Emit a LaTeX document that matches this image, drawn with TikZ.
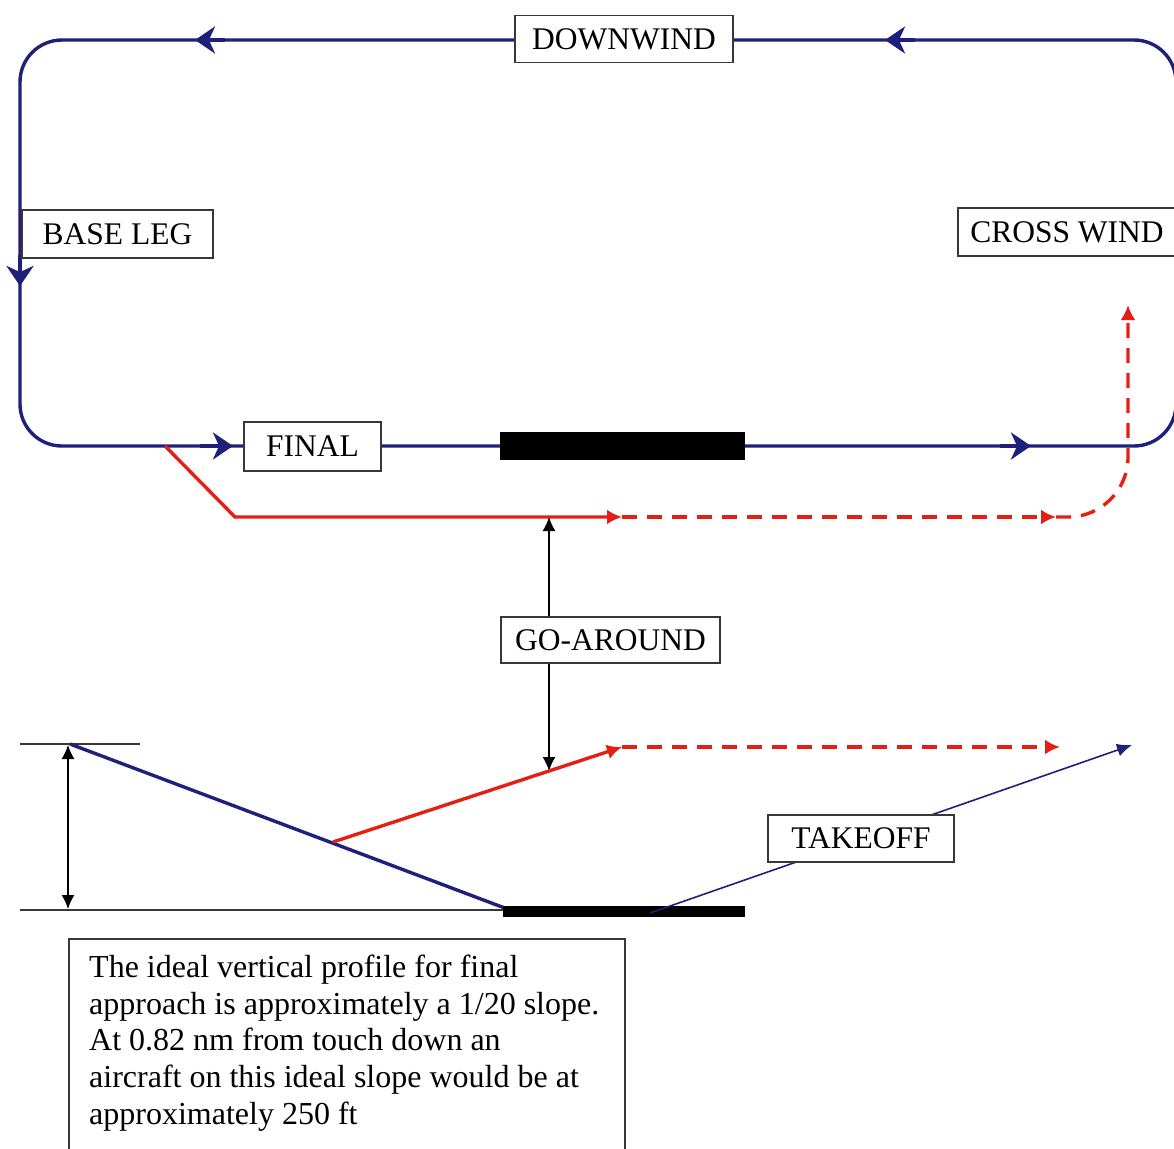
\documentclass[tikz,border=0pt]{standalone}
\usepackage{fontspec}
\setmainfont{Liberation Serif}
\usetikzlibrary{arrows.meta}
\definecolor{navy}{RGB}{30,32,122}
\definecolor{rred}{RGB}{228,32,22}
\definecolor{boxgray}{RGB}{55,55,55}
\begin{document}
\begin{tikzpicture}[x=1pt,y=-1pt,
  lbl/.style={draw=boxgray, line width=1.6pt, fill=white, inner sep=0pt,
    font=\fontsize{31.5}{36}\selectfont, minimum height=47pt},
  blueline/.style={navy, line width=3.4pt},
  thinblue/.style={navy, line width=1.6pt},
  redline/.style={rred, line width=3.4pt},
  reddash/.style={rred, line width=3.4pt, dash pattern=on 15pt off 10pt},
  blk/.style={black, line width=1.4pt},
  gline/.style={boxgray, line width=1.4pt},
  btip/.style={-{Stealth[length=20pt,width=27pt,inset=6pt]}},
  rtip/.style={-{Latex[length=15pt,width=15pt]}},
  ktip/.style={-{Latex[length=14pt,width=13pt]}},
]
\useasboundingbox (0,0) rectangle (1174,1148);
\clip (0,0) rectangle (1174,1148);

% traffic circuit
\draw[blueline, rounded corners=42pt] (20,40) rectangle (1176,446);
\draw[blueline, btip] (225,40) -- (195,40);
\draw[blueline, btip] (915,40) -- (885,40);
\draw[blueline, btip] (20,255) -- (20,286);
\draw[blueline, btip] (200,446) -- (233,446);
\draw[blueline, btip] (1000,446) -- (1031,446);

% runway (plan)
\fill[black] (500,432) rectangle (745,460);

% go-around in plan
\draw[redline, rtip] (165,446) -- (235,517) -- (622,517);
\draw[reddash, rtip] (622,517) -- (1056,517);
\draw[reddash, rtip, rounded corners=60pt] (1056,517) -- (1128,517) -- (1128,305);

% labels of the circuit
\node[lbl, minimum width=218pt] (dw) at (624,39) {DOWNWIND};
\node[lbl, minimum width=191pt, minimum height=48pt] (bl) at (117.5,234) {BASE LEG};
\node[lbl, minimum width=218pt, minimum height=48pt] (cw) at (1067,232) {CROSS WIND};
\node[lbl, minimum width=137pt, minimum height=49pt] (fin) at (312.5,446.5) {FINAL};

% go-around label and its arrows
\node[lbl, minimum width=219pt, minimum height=46pt] (ga) at (610.5,640) {GO-AROUND};
\coordinate (gaT) at (549,517);
\coordinate (gaB) at (549,771);
\draw[blk, ktip] (ga.north -| gaT) -- (gaT);
\draw[blk, ktip] (ga.south -| gaB) -- (gaB);

% vertical profile
\draw[gline] (20,744) -- (140,744);
\draw[gline] (20,910) -- (508,910);
\draw[blk, {Latex[length=14pt,width=13pt]}-{Latex[length=14pt,width=13pt]}] (68,745) -- (68,909);
\draw[blueline] (70,744) -- (510,910);
\fill[black] (503,906) rectangle (745,917);
\draw[redline, rtip] (333,842) -- (622,747);
\draw[reddash, rtip] (622,747) -- (1060,747);
\draw[thinblue, -{Latex[length=15pt,width=13pt]}] (650,913) -- (1132,745);
\node[lbl, minimum width=186pt, minimum height=47pt] (to) at (861,838.5) {TAKEOFF};

% note
\node[draw=boxgray, line width=1.6pt, fill=white, anchor=north west, minimum width=556pt, minimum height=260pt, inner sep=0pt] (note) at (68,938) {};
\node[anchor=north west, inner sep=0pt, align=left, font=\fontsize{32}{36.6}\selectfont] (notetext) at (89,955)
{The ideal vertical profile for final\\
approach is approximately a 1/20 slope.\\
At 0.82 nm from touch down an\\
aircraft on this ideal slope would be at\\
approximately 250 ft};
\end{tikzpicture}
\end{document}
